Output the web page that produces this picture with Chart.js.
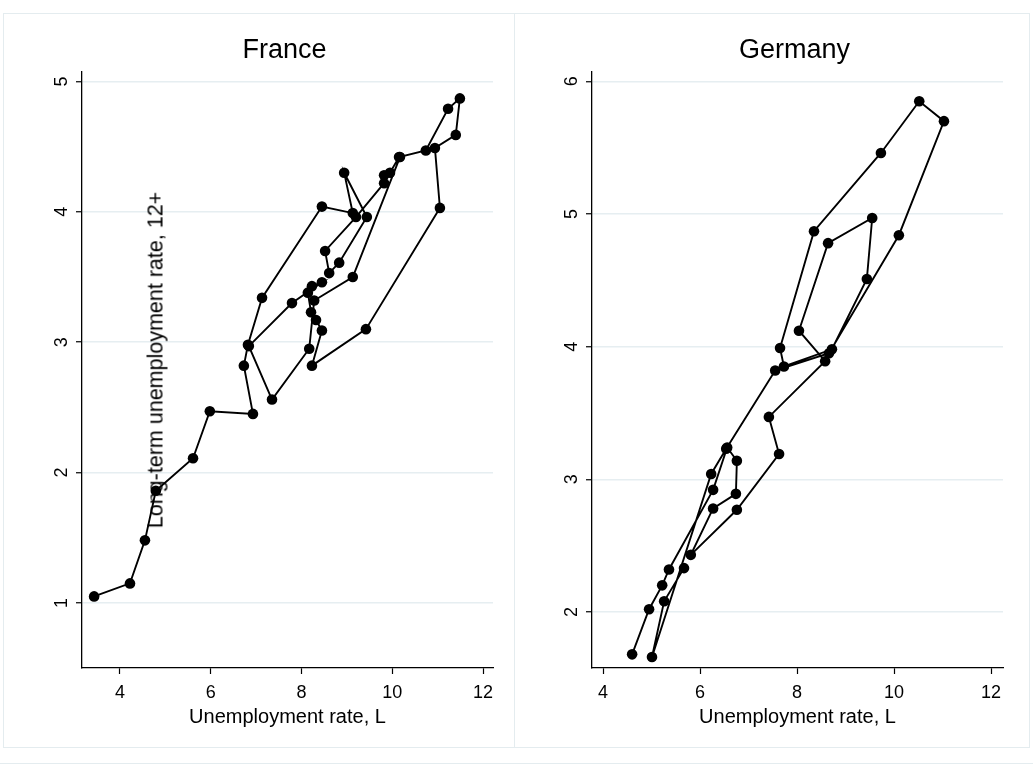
<!DOCTYPE html>
<html>
<head>
<meta charset="utf-8">
<script src="https://cdn.jsdelivr.net/npm/chart.js@4.4.1/dist/chart.umd.min.js"></script>
<style>
  body { margin: 0; background: #fff; }
  #page { position: relative; width: 1033px; height: 765px; overflow: hidden; }
  .frame { position: absolute; left: 3px; top: 13px; width: 1025px; height: 733px; border: 1.5px solid #e4ecef; }
  .divider { position: absolute; left: 514px; top: 13px; width: 0; height: 735px; border-left: 1.5px solid #e4ecef; }
  .nextframe { position: absolute; left: 0; top: 763px; width: 1033px; border-top: 1.5px solid #e4ecef; }
  .panel { position: absolute; top: 13px; height: 735px; }
  #ytitle { position: absolute; left: 156px; top: 360px; transform: translate(-50%, -50%) rotate(-90deg);
            white-space: nowrap; font: 21.5px "Liberation Sans", Arial, sans-serif; color: #000; }
</style>
</head>
<body>
<div id="page">
  <div class="frame"></div>
  <div class="divider"></div>
  <div class="nextframe"></div>
  <div class="panel" style="left:3px;width:511px"><canvas id="france"></canvas></div>
  <div class="panel" style="left:514px;width:516px"><canvas id="germany"></canvas></div>
  <div id="ytitle">Long-term unemployment rate, 12+</div>
</div>
<script>
// unemployment rate (x) and long-term unemployment rate 12+ months (y), year by year
var franceUnemp = [3.43, 4.22, 4.55, 4.79, 5.61, 5.98, 6.93, 6.73, 6.82, 7.13, 8.45, 9.13, 8.94, 9.44,
                   8.83, 8.61, 8.52, 9.20, 9.82, 9.82, 9.95, 10.15, 10.74, 11.23, 11.49, 11.40, 10.94, 11.05,
                   9.42, 8.23, 8.45, 8.32, 8.21, 8.14, 8.23, 8.45, 7.79, 6.84, 7.35, 8.17, 8.28, 9.13, 10.17];
var franceLtu   = [1.05, 1.15, 1.48, 1.86, 2.11, 2.47, 2.45, 2.82, 2.98, 3.34, 4.04, 3.99, 4.30, 3.96,
                   3.61, 3.53, 3.70, 3.96, 4.22, 4.28, 4.30, 4.42, 4.47, 4.79, 4.87, 4.59, 4.49, 4.03,
                   3.10, 2.82, 3.09, 3.17, 3.23, 3.38, 3.43, 3.46, 3.30, 2.97, 2.56, 2.95, 3.32, 3.50, 4.42];

var germanyUnemp = [4.60, 4.95, 5.22, 5.36, 6.27, 6.56, 6.76, 6.74, 6.27, 5.81, 6.76, 7.63, 7.42, 8.58,
                    8.04, 8.64, 9.55, 9.44, 8.72, 7.73, 7.65, 8.35, 9.73, 10.52, 11.03, 10.10, 8.66, 7.55,
                    6.54, 6.23, 5.01, 5.26, 5.67];
var germanyLtu   = [1.68, 2.02, 2.20, 2.32, 2.92, 3.24, 3.14, 2.89, 2.78, 2.43, 2.77, 3.19, 3.47, 3.89,
                    4.12, 4.78, 4.97, 4.51, 3.98, 3.85, 3.99, 4.87, 5.46, 5.85, 5.70, 4.84, 3.95, 3.82,
                    3.23, 3.04, 1.66, 2.08, 2.33];

var xTicks = [4, 6, 8, 10, 12];
var franceYTicks = [1, 2, 3, 4, 5];
var germanyYTicks = [2, 3, 4, 5, 6];

var FONT = '"Liberation Sans", Arial, sans-serif';

function toPoints(xs, ys) {
    return xs.map(function (x, i) { return { x: x, y: ys[i] }; });
}

// Stata-style y labels: rotated, centred on the tick
var rotatedYTicks = {
    id: 'rotatedYTicks',
    afterDraw: function (chart) {
        var y = chart.scales.y;
        var ctx = chart.ctx;
        ctx.save();
        ctx.fillStyle = '#000';
        ctx.font = '18px ' + FONT;
        ctx.textAlign = 'center';
        ctx.textBaseline = 'middle';
        y.ticks.forEach(function (t) {
            var py = y.getPixelForValue(t.value);
            ctx.save();
            ctx.translate(chart.chartArea.left - 20, py);
            ctx.rotate(-Math.PI / 2);
            ctx.fillText(String(t.value), 0, 0);
            ctx.restore();
        });
        ctx.restore();
    }
};

function makeChart(id, title, xs, ys, xRange, yRange, yTicks, pad) {
    var ctx = document.getElementById(id).getContext('2d');
    return new Chart(ctx, {
        type: 'scatter',
        data: {
            datasets: [{
                data: toPoints(xs, ys),
                showLine: true,
                borderColor: '#000',
                borderWidth: 1.9,
                backgroundColor: '#000',
                pointRadius: 5.3,
                pointHoverRadius: 5.3,
                pointBorderWidth: 0,
                tension: 0
            }]
        },
        options: {
            responsive: true,
            maintainAspectRatio: false,
            animation: false,
            layout: { padding: pad },
            plugins: {
                legend: { display: false },
                tooltip: { enabled: false },
                title: {
                    display: true,
                    text: title,
                    color: '#000',
                    font: { family: FONT, size: 27, weight: 'normal' },
                    padding: { top: 21, bottom: 5 }
                }
            },
            scales: {
                x: {
                    type: 'linear',
                    min: xRange[0],
                    max: xRange[1],
                    afterFit: function (s) { s.height = 64; },
                    afterBuildTicks: function (s) {
                        s.ticks = xTicks.map(function (v) { return { value: v }; });
                    },
                    ticks: { color: '#000', padding: 8, font: { family: FONT, size: 18 }, maxRotation: 0 },
                    grid: { display: true, drawOnChartArea: false, tickColor: '#000', tickLength: 6, tickWidth: 1.2 },
                    border: { color: '#000', width: 1.3 },
                    title: {
                        display: true,
                        text: 'Unemployment rate, L',
                        color: '#000',
                        font: { family: FONT, size: 20 },
                        padding: { top: 0, bottom: 3 }
                    }
                },
                y: {
                    type: 'linear',
                    min: yRange[0],
                    max: yRange[1],
                    afterBuildTicks: function (s) {
                        s.ticks = yTicks.map(function (v) { return { value: v }; });
                    },
                    afterFit: function (s) { s.width = 6; },
                    ticks: { display: false },
                    grid: { color: '#e6eef1', lineWidth: 1.5, tickColor: '#000', tickLength: 6, tickWidth: 1.2 },
                    border: { color: '#000', width: 1.3 }
                }
            }
        },
        plugins: [rotatedYTicks]
    });
}

makeChart('france', 'France', franceUnemp, franceLtu,
          [3.163, 12.22], [0.501, 5.077], franceYTicks,
          { left: 73, right: 21, top: 0, bottom: 16 });
makeChart('germany', 'Germany', germanyUnemp, germanyLtu,
          [3.773, 12.247], [1.577, 6.075], germanyYTicks,
          { left: 72, right: 27, top: 0, bottom: 16 });
</script>
</body>
</html>
